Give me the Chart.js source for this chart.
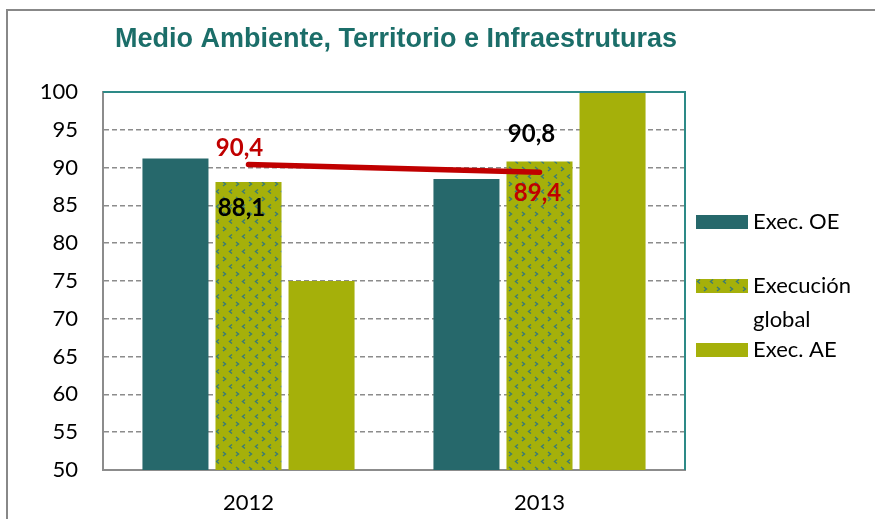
<!DOCTYPE html>
<html>
<head>
<meta charset="utf-8">
<script src="https://cdn.jsdelivr.net/npm/chart.js@4/dist/chart.umd.min.js"></script>
<style>
  html, body { margin: 0; padding: 0; background: #fff; }
  #wrap { width: 875px; height: 519px; }
</style>
</head>
<body>
<div id="wrap"><canvas id="chart" width="875" height="519"></canvas></div>
<script>
const categories = ['2012', '2013'];
const execOE = [91.2, 88.5];
const execGlobal = [88.1, 90.8];
const execAE = [75, 100];
const execLine = [90.4, 89.4];
const legendLabels = [['Exec. OE'], ['Execución', 'global'], ['Exec. AE']];
const yMin = 50, yMax = 100, yStep = 5;

const colorOE = '#26686b';
const colorAE = '#a5b00a';
const colorLine = '#c00000';

// small chevron pattern for "Execución global"
function makePattern(ctx) {
  const tile = document.createElement('canvas');
  tile.width = 13;
  tile.height = 15;
  const t = tile.getContext('2d');
  t.fillStyle = colorAE;
  t.fillRect(0, 0, 13, 15);
  t.strokeStyle = '#3a7a76';
  t.lineWidth = 1.4;
  t.beginPath();
  // ">"
  t.moveTo(2, 2); t.lineTo(4.5, 4); t.lineTo(2, 6);
  // "<"
  t.moveTo(11, 9.5); t.lineTo(8.5, 11.5); t.lineTo(11, 13.5);
  t.stroke();
  return ctx.createPattern(tile, 'repeat');
}

const fmt = v => v.toFixed(1).replace('.', ',');

const decorPlugin = {
  id: 'decor',
  beforeDraw(chart) {
    const c = chart.ctx;
    c.save();
    c.fillStyle = '#fff';
    c.fillRect(0, 0, chart.width, chart.height);
    c.strokeStyle = '#888';
    c.lineWidth = 2;
    c.strokeRect(7, 10, chart.width + 20, chart.height + 20);

    c.fillStyle = '#1b6e69';
    c.font = 'bold 27px "Liberation Sans", Arial, sans-serif';
    c.textAlign = 'center';
    c.textBaseline = 'alphabetic';
    c.fillText('Medio Ambiente, Territorio e Infraestruturas', 396, 47);

    // legend
    const fills = [colorOE, chart.data.datasets[2].backgroundColor, colorAE];
    const baselines = [229, 293, 357];
    c.font = '22px Lato, sans-serif';
    c.textAlign = 'left';
    legendLabels.forEach((lines, i) => {
      c.fillStyle = fills[i];
      c.fillRect(696, baselines[i] - 14, 52, 14);
      c.fillStyle = '#000';
      lines.forEach((txt, j) => c.fillText(txt, 753, baselines[i] + j * 34));
    });
    c.restore();
  },
  afterDatasetsDraw(chart) {
    const c = chart.ctx;
    const a = chart.chartArea;
    c.save();
    c.strokeStyle = '#2d8a87';
    c.lineWidth = 2;
    c.beginPath();
    c.moveTo(a.left, a.top);
    c.lineTo(a.right, a.top);
    c.lineTo(a.right, a.bottom);
    c.stroke();

    c.textAlign = 'center';
    c.textBaseline = 'middle';
    c.font = 'bold 24px Lato, sans-serif';
    const gBars = chart.getDatasetMeta(2).data;
    c.fillStyle = '#000';
    c.fillText(fmt(execGlobal[0]), gBars[0].x - 7, gBars[0].y + 26);
    c.fillText(fmt(execGlobal[1]), gBars[1].x - 8, gBars[1].y - 27);
    const pts = chart.getDatasetMeta(0).data;
    c.fillStyle = colorLine;
    c.fillText(fmt(execLine[0]), pts[0].x - 9, pts[0].y - 16);
    c.fillText(fmt(execLine[1]), pts[1].x - 2, pts[1].y + 21);
    c.restore();
  }
};

const ctx = document.getElementById('chart').getContext('2d');
const pattern = makePattern(ctx);

const barOpts = { categoryPercentage: 0.753, barPercentage: 0.904, order: 1 };

new Chart(ctx, {
  data: {
    labels: categories,
    datasets: [
      {
        type: 'line', label: 'Linha', data: execLine, order: 0,
        borderColor: colorLine, borderWidth: 5.5, borderCapStyle: 'round',
        pointRadius: 0, fill: false
      },
      Object.assign({ type: 'bar', label: 'Exec. OE', data: execOE, backgroundColor: colorOE }, barOpts),
      Object.assign({ type: 'bar', label: 'Execución global', data: execGlobal, backgroundColor: pattern }, barOpts),
      Object.assign({ type: 'bar', label: 'Exec. AE', data: execAE, backgroundColor: colorAE }, barOpts)
    ]
  },
  options: {
    responsive: false,
    animation: false,
    layout: { padding: { left: 0, top: 92, right: 190, bottom: 0 } },
    plugins: {
      legend: { display: false },
      title: { display: false },
      tooltip: { enabled: false }
    },
    scales: {
      x: {
        grid: { display: false, drawTicks: false },
        border: { display: true, color: '#8c8c8c', width: 2 },
        ticks: { color: '#000', font: { family: 'Lato', size: 22 }, padding: 20 },
        afterFit(scale) { scale.height = 49; }
      },
      y: {
        min: yMin, max: yMax,
        ticks: { stepSize: yStep, color: '#000', font: { family: 'Lato', size: 22 }, padding: 25 },
        grid: {
          drawTicks: false,
          lineWidth: 1.5,
          color: c => (c.tick && (c.tick.value === yMin || c.tick.value === yMax)) ? 'rgba(0,0,0,0)' : '#8c8c8c'
        },
        border: { display: true, color: '#8c8c8c', width: 2, dash: [5, 3] },
        afterFit(scale) { scale.width = 103; }
      }
    }
  },
  plugins: [decorPlugin]
});
</script>
</body>
</html>
